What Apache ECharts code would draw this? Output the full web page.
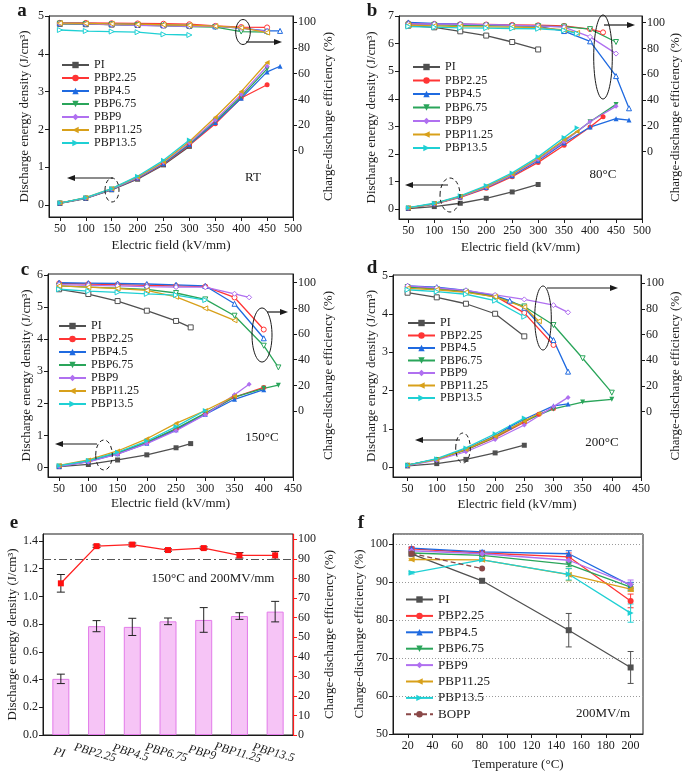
<!DOCTYPE html>
<html>
<head>
<meta charset="utf-8">
<script src="https://cdn.jsdelivr.net/npm/echarts@6/dist/echarts.min.js"></script>
<style>
  html, body { margin: 0; padding: 0; background: #fff; }
  #chart { width: 685px; height: 774px; }
</style>
</head>
<body>
<div id="chart"></div>
<script>
// ---- data ----
var sampleNames = ['PI', 'PBP2.25', 'PBP4.5', 'PBP6.75', 'PBP9', 'PBP11.25', 'PBP13.5'];

// panel a : room temperature
var aFields = [50, 100, 150, 200, 250, 300, 350, 400, 450, 475];
var aEnergy = [
    [0.04, 0.17, 0.40, 0.68, 1.06, 1.55, null, null, null, null],
    [0.05, 0.18, 0.41, 0.70, 1.08, 1.58, 2.15, 2.83, 3.18, null],
    [0.05, 0.18, 0.41, 0.71, 1.09, 1.60, 2.18, 2.82, 3.52, 3.67],
    [0.05, 0.18, 0.42, 0.72, 1.11, 1.62, 2.22, 2.87, 3.60, null],
    [0.05, 0.18, 0.42, 0.72, 1.12, 1.64, 2.25, 2.92, 3.67, null],
    [0.05, 0.19, 0.43, 0.74, 1.14, 1.68, 2.32, 3.00, 3.77, null],
    [0.05, 0.19, 0.43, 0.76, 1.18, 1.72, null, null, null, null]
];
var aEff = [
    [98.8, 98.5, 98.2, 97.9, 97.6, 97.3, null, null, null, null],
    [99.6, 99.5, 99.3, 99.1, 98.9, 98.5, 97.2, 96.3, 96.0, null],
    [99.3, 99.1, 98.8, 98.4, 98.0, 97.6, 96.8, 95.5, 93.3, 93.3],
    [99.0, 98.7, 98.3, 97.8, 97.2, 96.6, 96.3, 92.8, 92.3, null],
    [99.1, 98.8, 98.2, 97.6, 97.2, 96.9, 97.0, 95.5, 93.0, null],
    [99.3, 99.1, 98.8, 98.5, 98.1, 97.7, 97.0, 95.8, 92.0, null],
    [94.0, 93.2, 92.8, 92.3, 90.6, 90.1, null, null, null, null]
];

// panel b : 80 °C
var bFields = [50, 100, 150, 200, 250, 300, 350, 375, 400, 425, 450, 475];
var bEnergy = [
    [0.03, 0.10, 0.22, 0.40, 0.63, 0.90, null, null, null, null, null, null],
    [0.04, 0.19, 0.43, 0.76, 1.18, 1.70, 2.32, null, 2.98, 3.35, null, null],
    [0.05, 0.20, 0.45, 0.79, 1.22, 1.76, 2.40, null, 2.98, null, 3.28, 3.23],
    [0.05, 0.20, 0.46, 0.80, 1.25, 1.80, 2.47, null, 3.17, null, 3.80, null],
    [0.05, 0.20, 0.45, 0.80, 1.25, 1.80, 2.45, null, 3.18, null, 3.73, null],
    [0.05, 0.21, 0.47, 0.83, 1.28, 1.85, 2.52, 2.82, null, null, null, null],
    [0.06, 0.22, 0.49, 0.86, 1.32, 1.90, 2.60, 2.95, null, null, null, null]
];
var bEff = [
    [97.7, 96.4, 93.3, 90.0, 85.0, 79.2, null, null, null, null, null, null],
    [99.5, 99.0, 98.8, 98.6, 98.3, 98.0, 97.5, null, 95.0, 92.5, null, null],
    [100.2, 99.4, 98.8, 98.3, 97.8, 97.2, 93.5, null, 85.5, null, 58.5, 33.5],
    [98.5, 98.3, 98.0, 97.8, 97.5, 97.3, 97.0, null, 95.0, null, 85.0, null],
    [99.0, 99.0, 98.8, 98.5, 98.0, 97.5, 96.5, null, 89.0, null, 76.0, null],
    [98.0, 97.5, 97.0, 96.8, 96.5, 96.2, 94.5, 92.0, null, null, null, null],
    [97.0, 96.5, 96.0, 95.8, 95.5, 95.3, 94.0, 91.5, null, null, null, null]
];

// panel c : 150 °C
var cFields = [50, 100, 150, 200, 250, 275, 300, 350, 375, 400, 425];
var cEnergy = [
    [0.03, 0.10, 0.24, 0.40, 0.62, 0.75, null, null, null, null, null],
    [0.04, 0.20, 0.45, 0.78, 1.20, null, 1.68, 2.20, null, 2.50, null],
    [0.04, 0.19, 0.43, 0.76, 1.18, null, 1.66, 2.13, null, 2.43, null],
    [0.05, 0.21, 0.46, 0.80, 1.22, null, 1.70, 2.20, null, 2.47, 2.57],
    [0.04, 0.18, 0.42, 0.75, 1.15, null, 1.65, 2.27, 2.60, null, null],
    [0.07, 0.24, 0.52, 0.90, 1.38, null, 1.78, 2.23, null, null, null],
    [0.06, 0.22, 0.48, 0.83, 1.28, null, 1.78, null, null, null, null]
];
var cEff = [
    [94.9, 91.2, 85.7, 78.2, 70.2, 65.2, null, null, null, null, null],
    [99.5, 99.0, 98.5, 98.0, 97.5, null, 97.0, 88.5, null, 63.5, null],
    [100.0, 99.7, 99.4, 99.0, 98.4, null, 97.5, 83.6, null, 56.7, null],
    [97.5, 96.5, 95.8, 94.8, 92.0, null, 87.0, 74.3, null, 50.9, 34.0],
    [98.5, 98.0, 97.5, 97.0, 96.6, null, 96.5, 91.4, 88.6, null, null],
    [97.5, 96.5, 95.5, 94.0, 89.0, null, 80.0, 70.7, null, null, null],
    [94.9, 93.5, 92.5, 91.3, 90.4, null, 86.5, null, null, null, null]
];

// panel d : 200 °C
var dFields = [50, 100, 150, 200, 225, 250, 275, 300, 325, 350, 400];
var dEnergy = [
    [0.03, 0.09, 0.20, 0.37, null, 0.57, null, null, null, null, null],
    [0.05, 0.20, 0.45, 0.77, null, 1.17, 1.38, 1.53, null, null, null],
    [0.05, 0.21, 0.47, 0.82, 1.05, 1.25, null, 1.60, 1.65, null, null],
    [0.05, 0.20, 0.45, 0.79, null, 1.20, null, 1.52, null, 1.70, 1.77],
    [0.04, 0.18, 0.40, 0.72, null, 1.10, null, 1.58, 1.82, null, null],
    [0.05, 0.20, 0.46, 0.80, null, 1.20, 1.40, null, null, null, null],
    [0.05, 0.22, 0.50, 0.87, null, 1.28, null, null, null, null, null]
];
var dEff = [
    [92.7, 89.1, 84.1, 76.3, null, 58.7, null, null, null, null, null],
    [97.5, 96.0, 93.5, 90.0, null, 77.0, null, 52.0, null, null, null],
    [98.0, 97.0, 94.5, 90.5, 86.5, 81.0, null, 55.8, 31.2, null, null],
    [97.0, 95.5, 93.5, 89.5, null, 82.0, null, 67.5, null, 41.6, 14.8],
    [98.0, 96.5, 94.5, 91.0, null, 87.5, null, 83.0, 77.4, null, null],
    [96.0, 95.0, 93.0, 89.5, null, 81.5, 70.5, null, null, null, null],
    [95.0, 93.5, 91.5, 86.5, null, 74.0, null, null, null, null, null]
];

// panel e : 150 °C and 200 MV/m
var eCategories = ['PI', 'PBP2.25', 'PBP4.5', 'PBP6.75', 'PBP9', 'PBP11.25', 'PBP13.5'];
var eEnergy = [0.405, 0.785, 0.78, 0.82, 0.83, 0.858, 0.89];
var eEnergyErr = [0.034, 0.04, 0.062, 0.024, 0.089, 0.024, 0.074];
var eEff = [77.5, 96.5, 97.3, 94.5, 95.5, 91.8, 91.8];
var eEffErr = [4.5, 0.6, 0.8, 0.6, 0.6, 1.4, 2.0];

// panel f : efficiency vs temperature
var fTemps = [23, 80, 150, 200];
var fEff = [
    [97.4, 90.3, 77.3, 67.5],
    [98.7, 97.6, 96.6, 85.0],
    [98.9, 97.9, 97.4, 89.1],
    [97.6, 97.0, 94.6, 88.6],
    [98.2, 97.4, 95.7, 89.3],
    [95.9, 95.8, 91.9, 88.1],
    [92.4, 95.8, 92.0, 81.8]
];
var fEffErr = [
    [0.5, 0.5, 4.4, 4.2],
    [0.4, 0.4, 1.0, 1.8],
    [0.3, 0.4, 0.8, 0.8],
    [0.3, 0.3, 0.6, 0.8],
    [0.3, 0.3, 0.8, 1.2],
    [0.3, 0.3, 1.6, 0.6],
    [0.3, 0.3, 1.5, 2.4]
];
var boppTemps = [23, 80];
var boppEff = [97.5, 93.5];

// tick labels
var fieldTicks500 = [50, 100, 150, 200, 250, 300, 350, 400, 450, 500];
var fieldTicks450 = [50, 100, 150, 200, 250, 300, 350, 400, 450];
var effTicks = [0, 20, 40, 60, 80, 100];

// ---- styling ----
var SERIF = '"Liberation Serif", "DejaVu Serif", serif';
var INK = '#1a1a1a';
var sampleColors = ['#505050', '#ff3535', '#1f6ae0', '#2aa55a', '#b070f0', '#d8a01a', '#1fd0d4'];
var sampleSymbols = ['rect', 'circle', 'triangle', 'triangle', 'diamond', 'triangle', 'triangle'];
var sampleRotate = [0, 0, 0, 180, 0, 90, -90];

var grids = [], xAxes = [], yAxes = [], series = [], legends = [], graphics = [];
var nameStyle = { fontFamily: SERIF, fontSize: 13, color: INK };

function pairs(xs, ys) {
    var out = [];
    xs.forEach(function (x, i) { if (ys[i] != null) out.push([x, ys[i]]); });
    return out;
}

function valueAxis(o) {
    return Object.assign({
        type: 'value',
        nameLocation: 'middle',
        nameTextStyle: nameStyle,
        axisLine: { show: true, onZero: false, lineStyle: { color: INK, width: 1 } },
        axisTick: { show: true, length: 4, lineStyle: { color: INK } },
        axisLabel: { fontFamily: SERIF, fontSize: 12, color: INK, margin: 5 },
        splitLine: { show: false }
    }, o);
}

function addGrid(g) {
    grids.push({ left: g[0], top: g[1], width: g[2], height: g[3], show: true,
        borderColor: INK, borderWidth: 1, backgroundColor: 'rgba(0,0,0,0)' });
    return grids.length - 1;
}

function lineSeries(name, xi, yi, data, k, hollow, size) {
    return {
        name: name, type: 'line', xAxisIndex: xi, yAxisIndex: yi, data: data,
        symbol: sampleSymbols[k], symbolRotate: sampleRotate[k], symbolSize: size || 5,
        lineStyle: { color: sampleColors[k], width: 1.3 },
        itemStyle: hollow ? { color: '#fff', borderColor: sampleColors[k], borderWidth: 1 }
                          : { color: sampleColors[k] },
        animation: false
    };
}

function errorBars(xi, yi, pts, color, cap) {
    return {
        type: 'custom', xAxisIndex: xi, yAxisIndex: yi, silent: true, z: 3,
        encode: { x: 0, y: [1, 2] }, data: pts,
        renderItem: function (params, api) {
            var hi = api.coord([api.value(0), api.value(2)]);
            var lo = api.coord([api.value(0), api.value(1)]);
            var st = { stroke: color, lineWidth: 1 };
            return { type: 'group', children: [
                { type: 'line', shape: { x1: hi[0], y1: hi[1], x2: lo[0], y2: lo[1] }, style: st },
                { type: 'line', shape: { x1: hi[0] - cap, y1: hi[1], x2: hi[0] + cap, y2: hi[1] }, style: st },
                { type: 'line', shape: { x1: lo[0] - cap, y1: lo[1], x2: lo[0] + cap, y2: lo[1] }, style: st }
            ] };
        }
    };
}

function addLegend(left, top, gap, names, fontSize) {
    legends.push({
        orient: 'vertical', left: left, top: top, padding: 0, itemGap: gap,
        itemWidth: 27, itemHeight: 8, selectedMode: false, data: names,
        textStyle: { fontFamily: SERIF, fontSize: fontSize, color: INK, lineHeight: fontSize }
    });
}

// one panel of discharge energy density + efficiency against electric field
function fieldPanel(p) {
    var gi = addGrid(p.grid);
    var xi = xAxes.length;
    xAxes.push(valueAxis({
        gridIndex: gi, min: p.xMin, max: p.xMax, name: 'Electric field (kV/mm)', nameGap: p.xGap,
        axisTick: { show: true, length: 4, lineStyle: { color: INK }, customValues: p.xTicks },
        axisLabel: { fontFamily: SERIF, fontSize: 12, color: INK, margin: 6, customValues: p.xTicks }
    }));
    var yl = yAxes.length;
    var eTicks = [];
    for (var v = 0; v <= p.yTop; v++) eTicks.push(v);
    yAxes.push(valueAxis({
        gridIndex: gi, min: p.yMin, max: p.yMax, position: 'left',
        name: 'Discharge energy density (J/cm³)', nameGap: p.lGap,
        axisTick: { show: true, length: 4, lineStyle: { color: INK }, customValues: eTicks },
        axisLabel: { fontFamily: SERIF, fontSize: 12, color: INK, margin: 5, customValues: eTicks }
    }));
    yAxes.push(valueAxis({
        gridIndex: gi, min: p.rMin, max: p.rMax, position: 'right',
        name: 'Charge-discharge efficiency (%)', nameGap: p.rGap,
        axisTick: { show: true, length: 4, lineStyle: { color: INK }, customValues: effTicks },
        axisLabel: { fontFamily: SERIF, fontSize: 12, color: INK, margin: 5, customValues: effTicks }
    }));
    for (var k = 0; k < sampleNames.length; k++) {
        series.push(lineSeries(sampleNames[k], xi, yl, pairs(p.fields, p.energy[k]), k, false));
        series.push(lineSeries(sampleNames[k] + ' η', xi, yl + 1, pairs(p.fields, p.eff[k]), k, true));
    }
    addLegend(p.legend[0], p.legend[1], p.legend[2], sampleNames, 12);
}

fieldPanel({ grid: [49, 16, 244, 201], xMin: 29, xMax: 500, xTicks: fieldTicks500, xGap: 22,
    yMin: -0.32, yMax: 5, yTop: 5, lGap: 18, rMin: -51.6, rMax: 104.9, rGap: 29,
    fields: aFields, energy: aEnergy, eff: aEff, legend: [61, 59, 1] });
fieldPanel({ grid: [399, 16, 243, 203], xMin: 32, xMax: 500, xTicks: fieldTicks500, xGap: 22,
    yMin: -0.35, yMax: 7, yTop: 7, lGap: 21, rMin: -52.5, rMax: 105.2, rGap: 27,
    fields: bFields, energy: bEnergy, eff: bEff, legend: [412, 61, 1.5] });
fieldPanel({ grid: [48, 274, 245, 203], xMin: 31, xMax: 450, xTicks: fieldTicks450, xGap: 20,
    yMin: -0.29, yMax: 6.03, yTop: 6, lGap: 14, rMin: -51.4, rMax: 106.8, rGap: 29,
    fields: cFields, energy: cEnergy, eff: cEff, legend: [58, 320, 1] });
fieldPanel({ grid: [393, 275, 248, 202], xMin: 25, xMax: 450, xTicks: fieldTicks450, xGap: 21,
    yMin: -0.26, yMax: 5.02, yTop: 5, lGap: 14, rMin: -50.9, rMax: 106.5, rGap: 28,
    fields: dFields, energy: dEnergy, eff: dEff, legend: [407, 317, 0.5] });

// panel e
(function () {
    var gi = addGrid([43, 534, 250, 201]);
    var xi = xAxes.length;
    xAxes.push({
        type: 'category', gridIndex: gi, data: eCategories, boundaryGap: true,
        axisLine: { lineStyle: { color: INK } },
        axisTick: { alignWithLabel: true, length: 4, lineStyle: { color: INK } },
        axisLabel: { fontFamily: SERIF, fontSize: 12, color: INK, rotate: -16, align: 'center',
            verticalAlign: 'top', margin: 12, interval: 0, fontStyle: 'italic' }
    });
    var yl = yAxes.length;
    var lTicks = [0, 0.2, 0.4, 0.6, 0.8, 1.0, 1.2, 1.4];
    var rTicks = [0, 10, 20, 30, 40, 50, 60, 70, 80, 90, 100];
    yAxes.push(valueAxis({
        gridIndex: gi, min: 0, max: 1.45, position: 'left',
        name: 'Discharge energy density (J/cm³)', nameGap: 24,
        axisTick: { show: true, length: 4, lineStyle: { color: INK }, customValues: lTicks },
        axisLabel: { fontFamily: SERIF, fontSize: 12, color: INK, margin: 5, customValues: lTicks,
            formatter: function (v) { return v.toFixed(1); } }
    }));
    yAxes.push(valueAxis({
        gridIndex: gi, min: 0, max: 102.7, position: 'right',
        name: 'Charge-discharge efficiency (%)', nameGap: 30,
        axisLine: { show: true, onZero: false, lineStyle: { color: '#ff1a1a', width: 1.2 } },
        axisTick: { show: true, length: 4, lineStyle: { color: '#ff1a1a' }, customValues: rTicks },
        axisLabel: { fontFamily: SERIF, fontSize: 12, color: INK, margin: 5, customValues: rTicks }
    }));
    series.push({
        type: 'bar', xAxisIndex: xi, yAxisIndex: yl, data: eEnergy, barWidth: 17,
        itemStyle: { color: '#f6c4f6', borderColor: '#e27ae9', borderWidth: 1 }
    });
    series.push(errorBars(xi, yl, eEnergy.map(function (v, i) {
        return [i, v - eEnergyErr[i], v + eEnergyErr[i]];
    }), '#222', 4));
    series.push({
        type: 'line', xAxisIndex: xi, yAxisIndex: yl + 1, data: eEff, z: 4,
        symbol: 'rect', symbolSize: 6, lineStyle: { color: '#ff2020', width: 1.3 },
        itemStyle: { color: '#ff1010' },
        markLine: { silent: true, symbol: 'none', label: { show: false },
            lineStyle: { color: '#555', width: 1.2, type: [8, 3, 2, 3] },
            data: [{ yAxis: 90 }] }
    });
    series.push(errorBars(xi, yl + 1, eEff.map(function (v, i) {
        return [i, v - eEffErr[i], v + eEffErr[i]];
    }), '#222', 4));
})();

// panel f
(function () {
    var gi = addGrid([393, 534, 250, 200]);
    var xi = xAxes.length;
    var tTicks = [20, 40, 60, 80, 100, 120, 140, 160, 180, 200];
    xAxes.push(valueAxis({
        gridIndex: gi, min: 8, max: 210, name: 'Temperature (°C)', nameGap: 24,
        axisTick: { show: true, length: 4, lineStyle: { color: INK }, customValues: tTicks },
        axisLabel: { fontFamily: SERIF, fontSize: 12, color: INK, margin: 6, customValues: tTicks }
    }));
    var yl = yAxes.length;
    yAxes.push(valueAxis({
        gridIndex: gi, min: 50, max: 102.6, interval: 10, position: 'left',
        name: 'Charge-discharge efficiency (%)', nameGap: 25,
        splitLine: { show: true, lineStyle: { color: '#9a9a9a', type: [1, 2], width: 1 } }
    }));
    for (var k = 0; k < sampleNames.length; k++) {
        var errs = fEff[k].map(function (v, i) { return [fTemps[i], v - fEffErr[k][i], v + fEffErr[k][i]]; });
        series.push(errorBars(xi, yl, errs, sampleColors[k], 3));
        series.push(lineSeries(sampleNames[k], xi, yl, pairs(fTemps, fEff[k]), k, false, 6));
    }
    series.push({
        name: 'BOPP', type: 'line', xAxisIndex: xi, yAxisIndex: yl, data: pairs(boppTemps, boppEff),
        symbol: 'circle', symbolSize: 6, itemStyle: { color: '#8a4848' },
        lineStyle: { color: '#8a4848', width: 1.3, type: [5, 3] }
    });
    addLegend(405, 593, 3.4, sampleNames.concat(['BOPP']), 13);
})();

// ---- annotations ----
function ellipse(cx, cy, rx, ry, dashed) {
    return { type: 'ellipse', z: 100, shape: { cx: cx, cy: cy, rx: rx, ry: ry },
        style: { fill: 'none', stroke: INK, lineWidth: 1, lineDash: dashed ? [4, 3] : null } };
}
function arrow(x1, y, x2) {
    var dir = x2 > x1 ? 1 : -1;
    graphics.push({ type: 'line', z: 100, shape: { x1: x1, y1: y, x2: x2 - dir * 6, y2: y },
        style: { stroke: INK, lineWidth: 1.2 } });
    graphics.push({ type: 'polygon', z: 100,
        shape: { points: [[x2, y], [x2 - dir * 8, y - 3], [x2 - dir * 8, y + 3]] },
        style: { fill: INK } });
}
function label(x, y, text, size, bold) {
    return { type: 'text', z: 100, x: x, y: y,
        style: { text: text, fontFamily: SERIF, fontSize: size, fontWeight: bold ? 'bold' : 'normal',
            fill: INK, align: 'center', verticalAlign: 'middle', textAlign: 'center', textVerticalAlign: 'middle' } };
}

graphics.push(ellipse(112, 190, 7, 12, true), ellipse(243, 32, 7.3, 12.5, false));
arrow(113, 178, 67); arrow(246, 42, 282);
graphics.push(label(253, 178, 'RT', 13));

graphics.push(ellipse(603, 57, 9.3, 42, false), ellipse(450, 195, 10, 17, true));
arrow(604, 25, 635); arrow(448, 185, 405);
graphics.push(label(603, 175, '80°C', 13));

graphics.push(ellipse(262, 335, 10, 27, false), ellipse(104, 455, 8.3, 15, true));
arrow(267, 312, 288); arrow(97, 444, 55);
graphics.push(label(262, 438, '150°C', 13));

graphics.push(ellipse(543, 318, 8.3, 32, false), ellipse(463, 448, 7.3, 15, true));
arrow(547, 288, 618); arrow(460, 440, 415);
graphics.push(label(602, 443, '200°C', 13));

graphics.push(label(213, 579, '150°C and 200MV/mm', 13));
graphics.push(label(603, 714, '200MV/m', 13));

graphics.push(label(22, 11, 'a', 19, true), label(372, 11, 'b', 19, true),
    label(25, 270, 'c', 19, true), label(372, 268, 'd', 19, true),
    label(14, 523, 'e', 19, true), label(361, 523, 'f', 19, true));

var chart = echarts.init(document.getElementById('chart'));
chart.setOption({
    animation: false,
    backgroundColor: '#fff',
    grid: grids,
    xAxis: xAxes,
    yAxis: yAxes,
    legend: legends,
    series: series,
    graphic: { elements: graphics }
});
</script>
</body>
</html>
